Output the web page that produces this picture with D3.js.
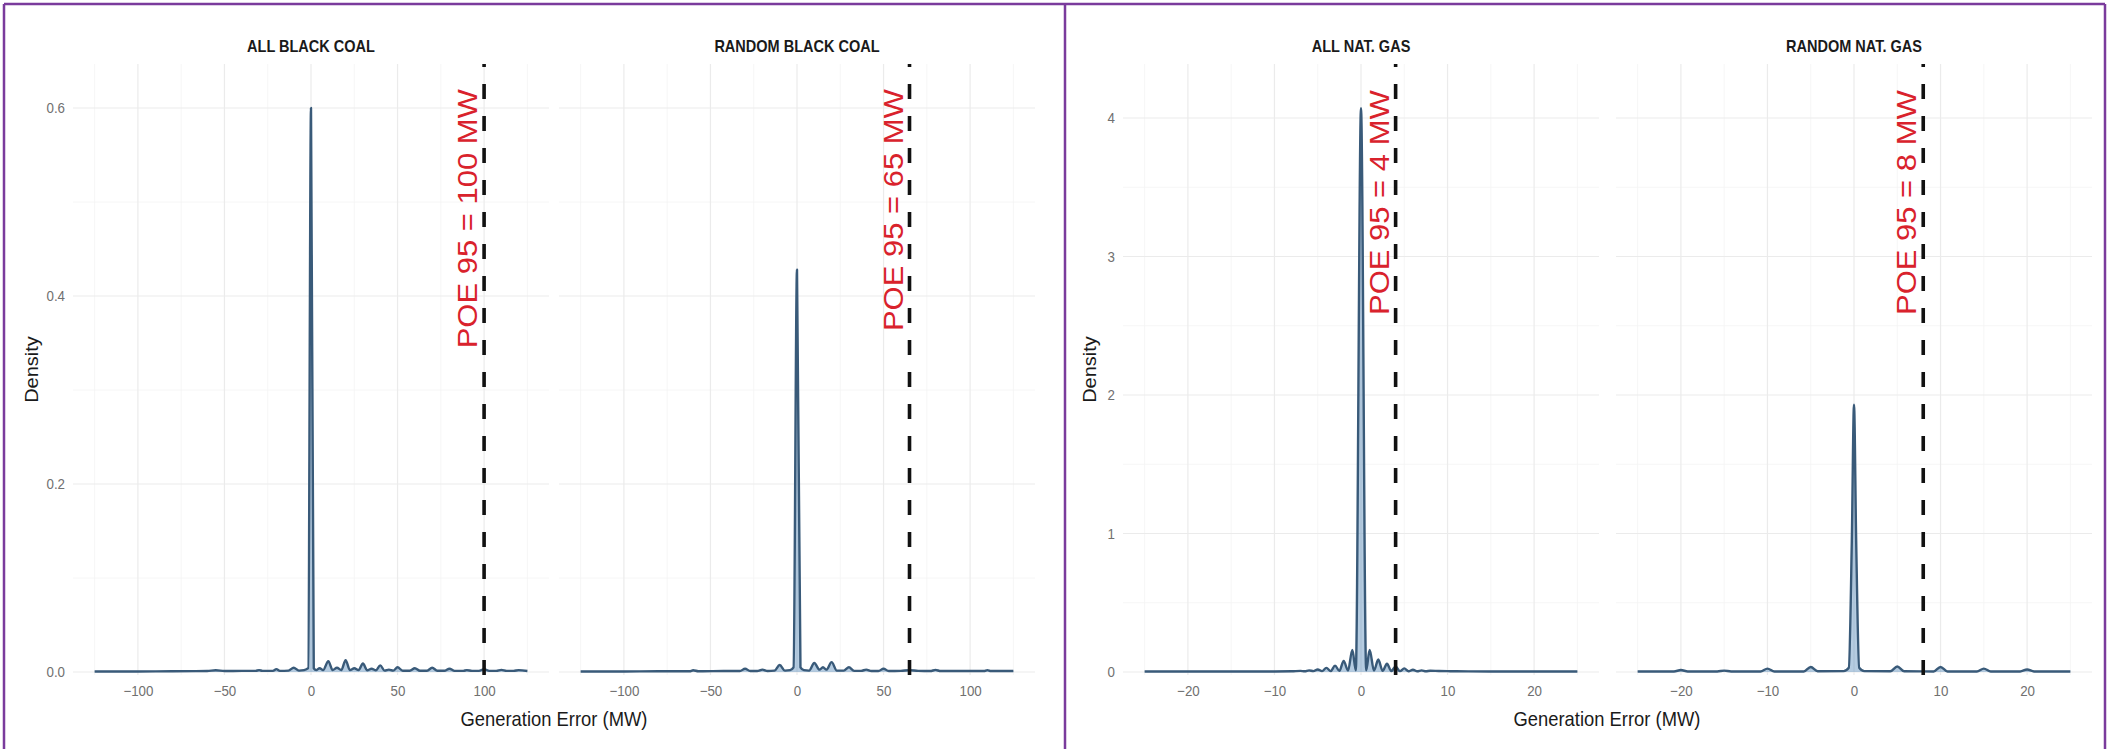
<!DOCTYPE html>
<html>
<head>
<meta charset="utf-8">
<script src="https://cdn.jsdelivr.net/npm/d3@7"></script>
<style>
  html, body { margin: 0; padding: 0; background: #ffffff; }
  svg { display: block; }
</style>
</head>
<body>
<svg id="chart" width="2108" height="749"></svg>
<script>
// ---------------- data ----------------
const panelTitles = ["ALL BLACK COAL", "RANDOM BLACK COAL", "ALL NAT. GAS", "RANDOM NAT. GAS"];
const poeValues = [100, 65, 4, 8];            // POE 95 generation error (MW)
const poeLabelTop = [0.62, 0.62, 4.2, 4.2];   // density at which each label ends

// ALL BLACK COAL density estimate
const coalAllX = [-125, -100, -80, -60, -55, -50, -40, -32, -30, -28, -22, -20, -18, -13, -10, -7, -4, -1.6, 0, 1.6, 3, 5, 7, 10, 12.5, 15, 17.5, 20, 22.5, 25, 27.5, 30, 32.5, 35, 37.5, 40, 42.5, 45, 47.5, 50, 53, 57, 60, 63, 67, 70, 73, 77, 80, 83, 88, 90, 93, 97, 100, 103, 107, 110, 113, 117, 120, 125];
const coalAllY = [0.0005, 0.0006, 0.0008, 0.001, 0.0018, 0.001, 0.0012, 0.0012, 0.002, 0.0012, 0.0012, 0.003, 0.0012, 0.0015, 0.0045, 0.0015, 0.002, 0.004, 0.600, 0.004, 0.002, 0.004, 0.002, 0.0115, 0.002, 0.0045, 0.002, 0.0125, 0.002, 0.004, 0.002, 0.009, 0.0018, 0.0035, 0.0018, 0.007, 0.0015, 0.0025, 0.0015, 0.005, 0.0014, 0.0014, 0.004, 0.0013, 0.0013, 0.0045, 0.0013, 0.0013, 0.0035, 0.0012, 0.0012, 0.002, 0.0012, 0.0012, 0.003, 0.0012, 0.0012, 0.0022, 0.0012, 0.0012, 0.002, 0.001];

// RANDOM BLACK COAL density estimate
const coalRandX = [-125, -100, -80, -62, -60, -57, -40, -33, -30, -27, -23, -20, -17, -13, -10, -7, -4, -2, 0, 2, 4, 7, 10, 13, 15, 17, 20, 23, 27, 30, 33, 37, 40, 43, 47, 50, 53, 60, 65, 70, 77, 80, 83, 100, 108, 110, 112, 125];
const coalRandY = [0.0005, 0.0006, 0.0008, 0.0008, 0.0018, 0.0008, 0.001, 0.001, 0.0035, 0.001, 0.001, 0.0025, 0.001, 0.0015, 0.0075, 0.0015, 0.002, 0.005, 0.428, 0.005, 0.002, 0.0015, 0.0095, 0.0025, 0.005, 0.0025, 0.0105, 0.0015, 0.0015, 0.005, 0.0012, 0.0012, 0.0025, 0.001, 0.001, 0.0035, 0.001, 0.0012, 0.002, 0.0012, 0.001, 0.0022, 0.001, 0.001, 0.001, 0.002, 0.001, 0.001];

// ALL NAT. GAS density estimate
const gasAllX = [-25, -15, -10, -8, -7, -6.5, -6, -5.5, -5, -4.5, -4, -3.5, -3, -2.5, -2, -1.5, -1, -0.6, 0, 0.6, 1, 1.5, 2, 2.5, 3, 3.5, 4, 4.5, 5, 5.5, 6, 6.5, 7, 7.5, 8, 9, 10, 11, 15, 25];
const gasAllY = [0.004, 0.004, 0.004, 0.005, 0.008, 0.005, 0.012, 0.006, 0.018, 0.006, 0.03, 0.007, 0.046, 0.008, 0.08, 0.01, 0.16, 0.012, 4.07, 0.012, 0.16, 0.01, 0.09, 0.008, 0.06, 0.007, 0.04, 0.006, 0.026, 0.005, 0.016, 0.005, 0.012, 0.005, 0.009, 0.007, 0.006, 0.005, 0.004, 0.004];

// RANDOM NAT. GAS density estimate
const gasRandX = [-25, -20.8, -20, -19.2, -15.8, -15, -14.2, -10.8, -10, -9.2, -5.8, -5, -4.2, -1.2, -0.6, -0.25, 0, 0.25, 0.6, 1.2, 4.2, 5, 5.8, 9.2, 10, 10.8, 14.2, 15, 15.8, 19.2, 20, 20.8, 25];
const gasRandY = [0.004, 0.004, 0.014, 0.004, 0.004, 0.01, 0.004, 0.004, 0.024, 0.004, 0.004, 0.036, 0.005, 0.006, 0.03, 0.95, 1.93, 0.95, 0.03, 0.006, 0.005, 0.04, 0.005, 0.004, 0.036, 0.004, 0.004, 0.024, 0.004, 0.004, 0.018, 0.004, 0.004];

// axis ticks
const coalXTicks = [-100, -50, 0, 50, 100];
const coalXMinor = [-125, -75, -25, 25, 75, 125];
const gasXTicks = [-20, -10, 0, 10, 20];
const gasXMinor = [-25, -15, -5, 5, 15, 25];
const coalYTicks = [0, 0.2, 0.4, 0.6];
const coalYMinor = [0.1, 0.3, 0.5];
const gasYTicks = [0, 1, 2, 3, 4];
const gasYMinor = [0.5, 1.5, 2.5, 3.5];

const axisTitleX = "Generation Error (MW)";
const axisTitleY = "Density";

// ---------------- layout ----------------
const FONT = "'Liberation Sans', Arial, Helvetica, sans-serif";
const SX = 0.92;            // slight horizontal condensing of all text
const PANEL_TOP = 64, PANEL_BOTTOM = 675;

const groups = [
  { // black coal
    panels: [0, 1],
    xDomain: [-137.5, 137.5],
    yDomain: [-0.0032, 0.6468],
    xTicks: coalXTicks, xMinor: coalXMinor,
    yTicks: coalYTicks, yMinor: coalYMinor,
    yFormat: d3.format(".1f"),
    panelX: [[73, 549], [559, 1035]],
    yTitleX: 38, xTitleX: 554
  },
  { // natural gas
    panels: [2, 3],
    xDomain: [-27.5, 27.5],
    yDomain: [-0.0217, 4.39],
    xTicks: gasXTicks, xMinor: gasXMinor,
    yTicks: gasYTicks, yMinor: gasYMinor,
    yFormat: d3.format("d"),
    panelX: [[1123, 1599], [1616, 2092]],
    yTitleX: 1096, xTitleX: 1607
  }
];

const series = [
  { x: coalAllX, y: coalAllY },
  { x: coalRandX, y: coalRandY },
  { x: gasAllX, y: gasAllY },
  { x: gasRandX, y: gasRandY }
];

const svg = d3.select("#chart");
svg.append("rect").attr("width", 2108).attr("height", 749).attr("fill", "#ffffff");

const defs = svg.append("defs");

groups.forEach((grp, gi) => {
  const y = d3.scaleLinear().domain(grp.yDomain).range([PANEL_BOTTOM, PANEL_TOP]);

  grp.panels.forEach((pi, k) => {
    const [x0, x1] = grp.panelX[k];
    const x = d3.scaleLinear().domain(grp.xDomain).range([x0, x1]);
    const g = svg.append("g").attr("class", "panel");

    // minor grid
    g.selectAll(".vminor").data(grp.xMinor).join("line")
      .attr("x1", d => x(d)).attr("x2", d => x(d))
      .attr("y1", PANEL_TOP).attr("y2", PANEL_BOTTOM)
      .attr("stroke", "#f4f4f4").attr("stroke-width", 0.8);
    g.selectAll(".hminor").data(grp.yMinor).join("line")
      .attr("x1", x0).attr("x2", x1)
      .attr("y1", d => y(d)).attr("y2", d => y(d))
      .attr("stroke", "#f4f4f4").attr("stroke-width", 0.8);
    // major grid
    g.selectAll(".vmajor").data(grp.xTicks).join("line")
      .attr("x1", d => x(d)).attr("x2", d => x(d))
      .attr("y1", PANEL_TOP).attr("y2", PANEL_BOTTOM)
      .attr("stroke", "#ebebeb").attr("stroke-width", 1.2);
    g.selectAll(".hmajor").data(grp.yTicks).join("line")
      .attr("x1", x0).attr("x2", x1)
      .attr("y1", d => y(d)).attr("y2", d => y(d))
      .attr("stroke", "#ebebeb").attr("stroke-width", 1.2);

    // density curve
    const clipId = "clip" + pi;
    defs.append("clipPath").attr("id", clipId)
      .append("rect").attr("x", x0).attr("y", PANEL_TOP - 2)
      .attr("width", x1 - x0).attr("height", PANEL_BOTTOM - PANEL_TOP + 4);
    const pts = series[pi].x.map((v, i) => [v, series[pi].y[i]]);
    const area = d3.area().x(d => x(d[0])).y0(y(0)).y1(d => y(d[1])).curve(d3.curveMonotoneX);
    const line = d3.line().x(d => x(d[0])).y(d => y(d[1])).curve(d3.curveMonotoneX);
    const cg = g.append("g").attr("clip-path", `url(#${clipId})`);
    cg.append("path").attr("d", area(pts)).attr("fill", "#5b8fbd").attr("fill-opacity", 0.45);
    cg.append("path").attr("d", line(pts)).attr("fill", "none")
      .attr("stroke", "#395a79").attr("stroke-width", 2.4).attr("stroke-linejoin", "round");

    // POE 95 reference line (dashes start at the bottom of the panel)
    g.append("line")
      .attr("x1", x(poeValues[pi])).attr("x2", x(poeValues[pi]))
      .attr("y1", PANEL_BOTTOM).attr("y2", PANEL_TOP)
      .attr("stroke", "#111").attr("stroke-width", 3.6)
      .attr("stroke-dasharray", "15,17");

    // POE 95 label
    g.append("text")
      .attr("transform", `translate(${x(poeValues[pi]) - 7},${y(poeLabelTop[pi])}) scale(${SX},1) rotate(-90)`)
      .attr("text-anchor", "end")
      .attr("font-family", FONT).attr("font-size", 31)
      .attr("fill", "#d9222c")
      .text(`POE 95 = ${poeValues[pi]} MW`);

    // strip title
    g.append("text")
      .attr("transform", `translate(${(x0 + x1) / 2},52) scale(0.88,1)`)
      .attr("text-anchor", "middle")
      .attr("font-family", FONT).attr("font-size", 16.5).attr("font-weight", "bold")
      .attr("fill", "#1a1a1a")
      .text(panelTitles[pi]);

    // x axis
    const xa = g.append("g").attr("transform", `translate(0,${PANEL_BOTTOM})`)
      .call(d3.axisBottom(x).tickValues(grp.xTicks).tickSize(0).tickPadding(11).tickFormat(d3.format("d")));
    xa.select(".domain").remove();
    xa.selectAll("text")
      .attr("font-family", FONT).attr("font-size", 14.5).attr("fill", "#707070")
      .attr("transform", `scale(${SX},1)`);

    // y axis on the first panel of each figure
    if (k === 0) {
      const ya = g.append("g").attr("transform", `translate(${x0},0)`)
        .call(d3.axisLeft(y).tickValues(grp.yTicks).tickSize(0).tickPadding(8).tickFormat(grp.yFormat));
      ya.select(".domain").remove();
      ya.selectAll("text")
        .attr("font-family", FONT).attr("font-size", 14.5).attr("fill", "#707070")
        .attr("x", -8 / SX)
        .attr("transform", `scale(${SX},1)`);
    }
  });

  // axis titles
  svg.append("text")
    .attr("transform", `translate(${grp.xTitleX},726) scale(${SX},1)`)
    .attr("text-anchor", "middle")
    .attr("font-family", FONT).attr("font-size", 20).attr("fill", "#1a1a1a")
    .text(axisTitleX);
  svg.append("text")
    .attr("transform", `translate(${grp.yTitleX},${(PANEL_TOP + PANEL_BOTTOM) / 2}) scale(${SX},1) rotate(-90)`)
    .attr("text-anchor", "middle")
    .attr("font-family", FONT).attr("font-size", 20).attr("fill", "#1a1a1a")
    .text(axisTitleY);
});

// purple frames around the two figures
const frame = svg.append("g").attr("stroke", "#7a3b9c").attr("stroke-width", 2.5).attr("fill", "none");
frame.append("line").attr("x1", 4).attr("x2", 4).attr("y1", 4).attr("y2", 749);
frame.append("line").attr("x1", 1065).attr("x2", 1065).attr("y1", 4).attr("y2", 749);
frame.append("line").attr("x1", 2105).attr("x2", 2105).attr("y1", 4).attr("y2", 749);
frame.append("line").attr("x1", 4).attr("x2", 2105).attr("y1", 4).attr("y2", 4);
</script>
</body>
</html>
